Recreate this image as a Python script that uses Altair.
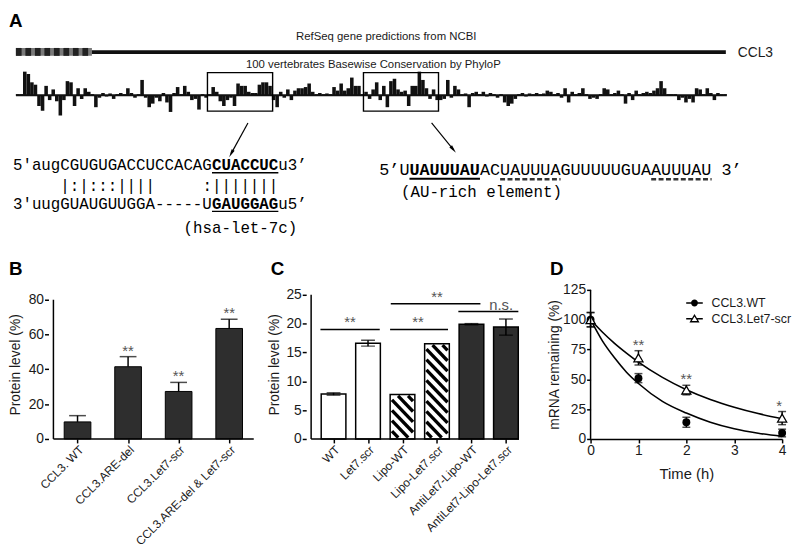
import altair as alt
import pandas as pd
import numpy as np

SANS = "Liberation Sans"
MONO = "Liberation Mono"
INK = "#1a1a1a"
DARK = "#2e2e2e"

# ---------------- Panel A data ----------------
cons_values = [
    0.05, 0.05, 1.0, 0.9, 0.55, 0.45, -0.45, -0.65, 0.4, -0.2,
    0.25, -0.25, -0.85, -0.2, 0.6, 0.55, -0.45, 0.3, -0.15, 0.3,
    0.15, 0.05, -0.5, -0.1, 0.1, -0.05, 0.08, -0.15, 0.05, 0.1,
    0.05, 0.3, 0.1, -0.1, 0.05, 0.65, -0.1, -0.5, -0.35, -0.1,
    -0.25, 0.1, -0.3, -0.7, 0.1, 0.35, 0.05, 0.4, 0.15, -0.2,
    -0.15, -0.6, 0.05, -0.1, 0.05, 0.35, 0.15, -0.25, -0.45, -0.2,
    -0.1, -0.45, 0.5, 0.4, 0.4, 0.15, 0.1, 0.1, 0.45, 0.55,
    0.55, 0.4, -0.2, -0.5, 0.15, -0.1, 0.25, -0.2, 0.2, 0.3,
    0.3, 0.35, 0.5, 0.15, 0.05, 0.1, 0.05, 0.08, 0.05, 0.35,
    0.2, 0.5, 0.2, 0.3, 0.75, 0.4, 0.4, 0.05, 0.15, -0.15,
    0.25, 0.55, -0.2, 0.4, -0.5, 0.6, 0.7, 0.25, 0.15, 0.2,
    -0.45, 0.4, 0.4, 1.0, 0.65, 0.3, -0.15, 0.25, -0.2, -0.2,
    -0.15, 0.65, -0.1, 0.4, 0.25, 0.05, 0.08, -0.5, 0.1, 0.15,
    0.05, 0.15, -0.05, 0.1, 0.05, -0.1, 0.05, -0.3, -0.45, -0.35,
    -0.15, 0.05, 0.1, -0.05, 0.08, 0.05, 0.1, 0.05, 0.08, 0.2,
    0.15, 0.05, 0.1, -0.1, 0.3, -0.3, 0.15, 0.05, 0.1, 0.3,
    0.05, -0.15, -0.1, -0.15, 0.05, 0.3, 0.25, 0.05, 0.1, 0.2,
    0.05, -0.35, 0.1, -0.2, 0.2, 0.05, 0.1, 0.15, 0.1, 0.2,
    0.3, 0.6, 0.3, 0.05, 0.05, 0.05, -0.2, -0.1, -0.3, -0.15,
    -0.3, 0.3, 0.25, 0.05, 0.3, 0.1, -0.2, 0.1, 0.05, 0.05,
]
utr_blocks = 8
seq1_top = ["5'augCGUGUGACCUCCACAG", "CUACCUC", "u3\u2019"]
seq1_pairs = ["|:|:::||||", ":|||||||"]
seq1_bot = ["3'uugGUAUGUUGGA-----U", "GAUGGAG", "u5\u2019"]
seq1_name = "(hsa-let-7c)"
seq2_top = ["5\u2019U", "UAUUUAU", "ACUAUUUAGUUUUUGUAAUUUAU 3\u2019"]
seq2_name = "(AU-rich element)"
panel_letters = ["A", "B", "C", "D"]

# ---------------- Panel B data ----------------
b_labels = ["CCL3. WT", "CCL3.ARE-del", "CCL3.Let7-scr", "CCL3.ARE-del & Let7-scr"]
b_means = [9.8, 41.5, 27.3, 63.5]
b_errs = [3.6, 5.8, 5.2, 5.3]
b_sig = ["", "**", "**", "**"]

# ---------------- Panel C data ----------------
c_labels = ["WT", "Let7.scr", "Lipo-WT", "Lipo-Let7.scr", "AntiLet7-Lipo-WT", "AntiLet7-Lipo-Let7.scr"]
c_means = [7.8, 16.6, 7.7, 16.5, 19.9, 19.4]
c_errs = [0.2, 0.5, 0.0, 0.0, 0.1, 1.4]
c_groups = ["plain", "plain", "Lipo", "Lipo", "AntiLet7", "AntiLet7"]
c_cmp_from = [-0.38, 1.64, 1.66, 3.62]
c_cmp_to = [1.34, 3.32, 4.26, 5.36]
c_cmp_level = [19.0, 19.0, 23.45, 22.1]
c_cmp_text = ["**", "**", "**", "n.s."]
c_cmp_text_x = [0.48, 2.45, 3.0, 4.86]

# ---------------- Panel D data ----------------
d_times = [0, 1, 2, 4]
d_wt = [100, 51, 14, 5]
d_wt_err = [6, 3.8, 4.2, 3.2]
d_l7 = [100, 68, 41, 17.5]
d_l7_err = [6, 6, 4, 5.5]
d_sig = ["", "**", "**", "**"]
d_fit_t = [0, 0.25, 0.5, 0.75, 1, 1.5, 2, 2.5, 3, 3.5, 4]
d_fit_wt = [100, 82, 68, 56, 46.5, 31.5, 21.7, 14, 8.5, 4.8, 2.2]
d_fit_l7 = [100, 89.5, 80.2, 72, 64.4, 51.6, 41.3, 33.1, 26.6, 21.3, 17]
d_series = ["CCL3.WT", "CCL3.Let7-scr"]

# =============== Panel A (schematic, page-like coordinates) ===============
AX0, AX1, AY0 = 48, 792, 8     # plot area of panel A starts where panel B's plot starts
HA = 240
XS = alt.Scale(domain=[AX0, AX1], nice=False, zero=False)
YS = alt.Scale(domain=[AY0, AY0 + HA], nice=False, zero=False, reverse=True)


def X(f="x"):
    return alt.X(f"{f}:Q", scale=XS, axis=None)


def Y(f="y"):
    return alt.Y(f"{f}:Q", scale=YS, axis=None)


TX0, BW, BASE, UNIT = 15.0, 3.6, 93.0, 24.0
cons = pd.DataFrame({"i": np.arange(len(cons_values)), "v": cons_values})
cons["x"] = TX0 + BW * cons["i"]
cons["x2"] = cons["x"] + BW
cons["y"] = BASE
cons["y2"] = BASE - UNIT * cons["v"]
track_end = TX0 + BW * len(cons_values)

layers = []
layers.append(alt.Chart(cons).mark_rect(color="#111", strokeWidth=0).encode(
    x=X(), x2="x2:Q", y=Y(), y2="y2:Q"))
layers.append(alt.Chart(pd.DataFrame({"x": [TX0], "x2": [track_end], "y": [BASE]})).mark_rule(
    color="#111", strokeWidth=2).encode(x=X(), x2="x2:Q", y=Y()))

# gene model
utr_x0, utr_x1 = 15.0, 92.0
period = (utr_x1 - utr_x0) / utr_blocks
gene = pd.DataFrame({"x": [utr_x0, utr_x1], "x2": [utr_x1, 734.0], "y": [45.0, 47.2], "y2": [53.0, 51.0],
                     "c": ["#7a7a7a", "#111111"]})
blocks = pd.DataFrame({"x": utr_x0 + period * np.arange(utr_blocks)})
blocks["x2"] = blocks["x"] + period * 0.6
blocks["y"] = 45.0
blocks["y2"] = 53.0
blocks["c"] = "#222222"
gene = pd.concat([gene, blocks], ignore_index=True)
layers.append(alt.Chart(gene).mark_rect(strokeWidth=0).encode(
    x=X(), x2="x2:Q", y=Y(), y2="y2:Q", color=alt.Color("c:N", scale=None)))

# boxes
boxes = pd.DataFrame({"x": [209, 367], "x2": [275, 443], "y": [70, 70], "y2": [109, 109]})
layers.append(alt.Chart(boxes).mark_rect(filled=False, stroke="black", strokeWidth=1.4).encode(
    x=X(), x2="x2:Q", y=Y(), y2="y2:Q"))

# arrows
arrows = pd.DataFrame({"x": [250, 436], "y": [121, 121], "x2": [233, 458], "y2": [152, 148]})
arrows["ang"] = np.degrees(np.arctan2(arrows["x2"] - arrows["x"], -(arrows["y2"] - arrows["y"]))) % 360
layers.append(alt.Chart(arrows).mark_rule(color="black", strokeWidth=1.2).encode(
    x=X(), y=Y(), x2="x2:Q", y2="y2:Q"))
ARROWHEAD = "M0,-1L0.42,1L-0.42,1Z"
layers.append(alt.Chart(arrows).mark_point(shape=ARROWHEAD, filled=True, color="black", size=70, opacity=1).encode(
    x=X("x2"), y=Y("y2"), angle=alt.Angle("ang:Q", scale=None)))

# sans texts
sans_c = pd.DataFrame({"x": [390, 377], "y": [37, 65],
                       "t": ["RefSeq gene predictions from NCBI", "100 vertebrates Basewise Conservation by PhyloP"]})
layers.append(alt.Chart(sans_c).mark_text(font=SANS, fontSize=11.5, color=INK, align="center", baseline="alphabetic").encode(
    x=X(), y=Y(), text="t:N"))
layers.append(alt.Chart(pd.DataFrame({"x": [746], "y": [54], "t": ["CCL3"]})).mark_text(
    font=SANS, fontSize=14, color=INK, align="left", baseline="alphabetic").encode(x=X(), y=Y(), text="t:N"))
letters = pd.DataFrame({"x": [8, 8, 273, 556], "y": [24, 275, 275, 275], "t": panel_letters})
layers.append(alt.Chart(letters).mark_text(
    font=SANS, fontSize=19, fontWeight="bold", color="black", align="left", baseline="alphabetic").encode(
    x=X(), y=Y(), text="t:N"))

# monospace sequences
L0, LA = 12.0, 9.6      # left block origin and advance (16px mono)
R0, RA = 383.0, 10.2    # right block origin and advance (17px mono)
mono_norm = pd.DataFrame([
    {"x": L0, "y": 169, "t": seq1_top[0], "fs": 16},
    {"x": L0 + 28 * LA, "y": 169, "t": seq1_top[2], "fs": 16},
    {"x": L0 + 5 * LA, "y": 190, "t": seq1_pairs[0], "fs": 16},
    {"x": L0 + 20 * LA, "y": 190, "t": seq1_pairs[1], "fs": 16},
    {"x": L0, "y": 208, "t": seq1_bot[0], "fs": 16},
    {"x": L0 + 28 * LA, "y": 208, "t": seq1_bot[2], "fs": 16},
    {"x": L0 + 18 * LA, "y": 232, "t": seq1_name, "fs": 16},
    {"x": R0, "y": 174, "t": seq2_top[0], "fs": 17},
    {"x": R0 + 10 * RA, "y": 174, "t": seq2_top[2], "fs": 17},
    {"x": 405, "y": 196, "t": seq2_name, "fs": 16},
])
mono_bold = pd.DataFrame([
    {"x": L0 + 21 * LA, "y": 169, "t": seq1_top[1], "fs": 16},
    {"x": L0 + 21 * LA, "y": 208, "t": seq1_bot[1], "fs": 16},
    {"x": R0 + 3 * RA, "y": 174, "t": seq2_top[1], "fs": 17},
])
for dfm, wt in [(mono_norm, "normal"), (mono_bold, "bold")]:
    layers.append(alt.Chart(dfm).mark_text(font=MONO, fontWeight=wt, color="black", align="left", baseline="alphabetic").encode(
        x=X(), y=Y(), text="t:N", size=alt.Size("fs:Q", scale=None, legend=None)))

under_solid = pd.DataFrame({"x": [L0 + 21 * LA, L0 + 21 * LA, R0 + 3 * RA],
                            "x2": [L0 + 28 * LA, L0 + 28 * LA, R0 + 10 * RA],
                            "y": [171.5, 210.5, 177.5], "w": [1.5, 1.5, 2.2]})
layers.append(alt.Chart(under_solid).mark_rule(color="black").encode(
    x=X(), x2="x2:Q", y=Y(), strokeWidth=alt.StrokeWidth("w:Q", scale=None, legend=None)))
under_dash = pd.DataFrame({"x": [R0 + 12 * RA, R0 + 27 * RA], "x2": [R0 + 18 * RA, R0 + 33 * RA], "y": [178, 178]})
layers.append(alt.Chart(under_dash).mark_rule(color="#333", strokeWidth=2.4, strokeDash=[5, 2.5]).encode(
    x=X(), x2="x2:Q", y=Y()))

panelA = alt.layer(*layers).properties(width=AX1 - AX0, height=HA)

# =============== helpers ===============
PH = 151          # common plot height of B, C, D (axis tops differ, drawn as rules)
PLOT_TOP = 290    # page y of the common plot top
B_LEFT, C_LEFT, D_LEFT = 48, 309, 597
GAP = 29          # concat spacing; panel widths are padded so plot origins land on *_LEFT


def label_expr(names):
    return "[" + ",".join("'" + n + "'" for n in names) + "][datum.value]"


def yaxis(values, title, pad):
    return alt.Axis(values=values, title=title, titlePadding=pad, labelOverlap=False, domain=False,
                    labelSeparation=0, tickCount=len(values))


def xaxis_cat(names, size=12):
    return alt.Axis(values=list(range(len(names))), labelExpr=label_expr(names), labelAngle=-45,
                    title=None, labelFontSize=size, labelOverlap=False, domain=False)


def yaxis_line(xmin, ymax, xs, ys):
    return alt.Chart(pd.DataFrame({"x": [xmin], "y": [0], "y2": [ymax]})).mark_rule(
        color="black", strokeWidth=1.5).encode(x=alt.X("x:Q", scale=xs), y=alt.Y("y:Q", scale=ys), y2="y2:Q")


def xaxis_line(xmin, xmax, xs, ys):
    return alt.Chart(pd.DataFrame({"x": [xmin], "x2": [xmax], "y": [0]})).mark_rule(
        color="black", strokeWidth=1.5).encode(x=alt.X("x:Q", scale=xs), x2="x2:Q", y=alt.Y("y:Q", scale=ys))


# =============== Panel B ===============
b_top_px = 300
b_ymax = 80 * PH / (441 - b_top_px)
BWID = C_LEFT - B_LEFT - GAP
b_ppu = 53.5
bxd = [-0.477, -0.477 + BWID / b_ppu]
b_axis_end = 3.486
bdf = pd.DataFrame({"pos": range(len(b_labels)), "mean": b_means, "err": b_errs, "sig": b_sig})
bdf["top"] = bdf["mean"] + bdf["err"]
bxs = alt.Scale(domain=bxd, nice=False, zero=False)
bx = alt.X("pos:Q", scale=bxs, axis=xaxis_cat(b_labels))
bys = alt.Scale(domain=[0, b_ymax], nice=False)
by = alt.Y("mean:Q", scale=bys, axis=yaxis([0, 20, 40, 60, 80], "Protein level (%)", 6))
b_base = alt.Chart(bdf)
panelB = alt.layer(
    b_base.mark_bar(size=27, color=DARK, stroke="black", strokeWidth=1, orient="vertical").encode(x=bx, y=by),
    b_base.mark_rule(color="black", strokeWidth=1.5).encode(x=bx, y=alt.Y("mean:Q", scale=bys), y2="top:Q"),
    b_base.mark_tick(orient="horizontal", size=17, thickness=1.5, color="black").encode(x=bx, y=alt.Y("top:Q", scale=bys)),
    b_base.mark_text(font=SANS, fontSize=15, color="#555", baseline="alphabetic", dy=-1).encode(
        x=bx, y=alt.Y("top:Q", scale=bys), text="sig:N"),
    yaxis_line(bxd[0], 80, bxs, bys),
    xaxis_line(bxd[0], b_axis_end, bxs, bys),
).properties(width=BWID, height=PH)

# =============== Panel C ===============
c_top_px = 295
c_ymax = 25 * PH / (441 - c_top_px)
CWID = D_LEFT - C_LEFT - GAP
c_ppu = 36.32
cxd = [-0.65, -0.65 + CWID / c_ppu]
c_axis_end = 5.38
cdf = pd.DataFrame({"pos": range(len(c_labels)), "mean": c_means, "err": c_errs, "grp": c_groups})
cdf["lo"] = cdf["mean"] - cdf["err"]
cdf["hi"] = cdf["mean"] + cdf["err"]
cxs = alt.Scale(domain=cxd, nice=False, zero=False)
cys = alt.Scale(domain=[0, c_ymax], nice=False)
cx = alt.X("pos:Q", scale=cxs, axis=xaxis_cat(c_labels))
cy = alt.Y("mean:Q", scale=cys, axis=yaxis([0, 5, 10, 15, 20, 25], "Protein level (%)", 4))
BAR_PX = 25
pxx = c_ppu
pxy = PH / c_ymax
half = BAR_PX / 2 / pxx

# hatch lines for the Lipo bars (pattern geometry derived from each bar's value)
hatch_rows = []
inset, P = 1.4, 10.5
for _, r in cdf[cdf["grp"] == "Lipo"].iterrows():
    W = BAR_PX - 2 * inset
    H = r["mean"] * pxy - 2 * inset
    left = r["pos"] - half + inset / pxx
    topv = r["mean"] - inset / pxy
    k = W - P / 2
    while k > -H:
        u0, u1 = max(0.0, k), min(W, H + k)
        if u1 > u0:
            hatch_rows.append({"x": left + u0 / pxx, "x2": left + u1 / pxx,
                               "y": topv - (u0 - k) / pxy, "y2": topv - (u1 - k) / pxy})
        k -= P
hatch = pd.DataFrame(hatch_rows)

cmp_df = pd.DataFrame({"x": c_cmp_from, "x2": c_cmp_to, "y": c_cmp_level})
cmp_txt = pd.DataFrame({"x": c_cmp_text_x, "t": c_cmp_text, "y": c_cmp_level})
c_base = alt.Chart(cdf)
c_err = alt.Chart(cdf[cdf["err"] > 0])
panelC = alt.layer(
    c_base.mark_bar(size=BAR_PX, strokeWidth=0, orient="vertical").encode(
        x=cx, y=cy, fill=alt.Fill("grp:N", scale=alt.Scale(domain=["plain", "Lipo", "AntiLet7"],
                                                          range=["white", "white", DARK]), legend=None)),
    alt.Chart(hatch).mark_rule(color="black", strokeWidth=3.4).encode(
        x=alt.X("x:Q", scale=cxs), x2="x2:Q", y=alt.Y("y:Q", scale=cys), y2="y2:Q"),
    c_base.mark_bar(size=BAR_PX, fill=None, stroke="black", strokeWidth=1.5, orient="vertical").encode(x=cx, y=cy),
    c_err.mark_rule(color="black", strokeWidth=1.5).encode(x=cx, y=alt.Y("lo:Q", scale=cys), y2="hi:Q"),
    c_err.mark_tick(orient="horizontal", size=14, thickness=1.5, color="black").encode(x=cx, y=alt.Y("lo:Q", scale=cys)),
    c_err.mark_tick(orient="horizontal", size=14, thickness=1.5, color="black").encode(x=cx, y=alt.Y("hi:Q", scale=cys)),
    alt.Chart(cmp_df).mark_rule(color="black", strokeWidth=1.5).encode(
        x=alt.X("x:Q", scale=cxs), x2="x2:Q", y=alt.Y("y:Q", scale=cys)),
    alt.Chart(cmp_txt).mark_text(font=SANS, fontSize=15, color="#555", baseline="alphabetic", dy=-2).encode(
        x=alt.X("x:Q", scale=cxs), y=alt.Y("y:Q", scale=cys), text="t:N"),
    yaxis_line(cxd[0], 25, cxs, cys),
    xaxis_line(cxd[0], c_axis_end, cxs, cys),
).properties(width=CWID, height=PH)

# =============== Panel D ===============
DW = 194
dxs = alt.Scale(domain=[0, 4], nice=False)
dys = alt.Scale(domain=[0, 125], nice=False)
dpts = pd.DataFrame({"t": d_times * 2, "v": d_wt + d_l7, "e": d_wt_err + d_l7_err,
                     "s": [d_series[0]] * 4 + [d_series[1]] * 4})
dpts["lo"] = dpts["v"] - dpts["e"]
dpts["hi"] = dpts["v"] + dpts["e"]
dfit = pd.DataFrame({"t": d_fit_t * 2, "v": d_fit_wt + d_fit_l7, "s": [d_series[0]] * 11 + [d_series[1]] * 11})
dsig = pd.DataFrame({"t": d_times, "v": [a + b for a, b in zip(d_l7, d_l7_err)], "txt": d_sig})
dx_ = alt.X("t:Q", scale=dxs, axis=alt.Axis(values=[0, 1, 2, 3, 4], title="Time (h)", titleFontSize=15,
                                             titlePadding=9, labelOverlap=False))
dy_ = alt.Y("v:Q", scale=dys, axis=yaxis([0, 25, 50, 75, 100, 125], "mRNA remaining (%)", 1))
P_WT = "M-1.4,-0.125H1.4V0.125H-1.4Z M0.58,0A0.58,0.58 0 1,1 -0.58,0A0.58,0.58 0 1,1 0.58,0Z"
P_L7 = ("M-1.4,-0.125H-0.45V0.125H-1.4Z M0.45,-0.125H1.4V0.125H0.45Z "
        "M0,-0.8L0.85,0.62L-0.85,0.62Z M0,-0.37L-0.46,0.4L0.46,0.4Z")
wt_pts = alt.Chart(dpts[dpts["s"] == d_series[0]])
l7_pts = alt.Chart(dpts[dpts["s"] == d_series[1]])
panelD = alt.layer(
    alt.Chart(dfit).mark_line(color="black", strokeWidth=1.6, interpolate="monotone").encode(
        x=dx_, y=dy_, detail="s:N"),
    alt.Chart(dpts).mark_rule(color="black", strokeWidth=1.5).encode(x=dx_, y=alt.Y("lo:Q", scale=dys), y2="hi:Q"),
    alt.Chart(dpts).mark_tick(orient="horizontal", size=8, thickness=1.5, color="black").encode(
        x=dx_, y=alt.Y("lo:Q", scale=dys)),
    alt.Chart(dpts).mark_tick(orient="horizontal", size=8, thickness=1.5, color="black").encode(
        x=dx_, y=alt.Y("hi:Q", scale=dys)),
    wt_pts.mark_point(shape="circle", filled=True, color="black", size=64, opacity=1).encode(x=dx_, y=dy_),
    l7_pts.mark_point(shape="triangle-up", filled=False, fill="white", stroke="black", strokeWidth=1.3,
                      size=85, opacity=1).encode(x=dx_, y=dy_),
    alt.Chart(dsig).mark_text(font=SANS, fontSize=15, color="#555", baseline="alphabetic", dy=-1, clip=True).encode(
        x=dx_, y=dy_, text="txt:N"),
    yaxis_line(0, 125, dxs, dys),
    alt.Chart(dpts).mark_point(filled=True, color="black", opacity=0).encode(
        x=dx_, y=dy_,
        shape=alt.Shape("s:N", scale=alt.Scale(domain=d_series, range=[P_WT, P_L7]),
                        legend=alt.Legend(title=None, orient="none", legendX=99, legendY=7, symbolSize=144,
                                          symbolFillColor="black", symbolStrokeWidth=0, symbolOpacity=1,
                                          labelFont=SANS, labelFontSize=12.5, labelColor=INK, labelOffset=11,
                                          rowPadding=3, padding=0))),
).properties(width=DW, height=PH)

bottom = alt.hconcat(panelB, panelC, panelD, spacing=GAP, bounds="flush").resolve_legend(shape="independent")
chart = alt.vconcat(panelA, bottom, spacing=PLOT_TOP - AY0 - HA, bounds="flush").resolve_legend(
    shape="independent").properties(padding=0).configure_axis(
    domainColor="black", domainWidth=1.5, tickColor="black", tickWidth=1.5, tickSize=4,
    labelFont=SANS, labelFontSize=14, labelColor=INK, labelPadding=1, labelFlush=False, labelOverlap=False,
    titleFont=SANS, titleFontSize=14, titleFontWeight="normal", titleColor=INK, grid=False,
).configure_axisY(labelOverlap=False).configure_view(stroke=None)

chart.save("out.html", embed_options={"renderer": "svg", "actions": False})
